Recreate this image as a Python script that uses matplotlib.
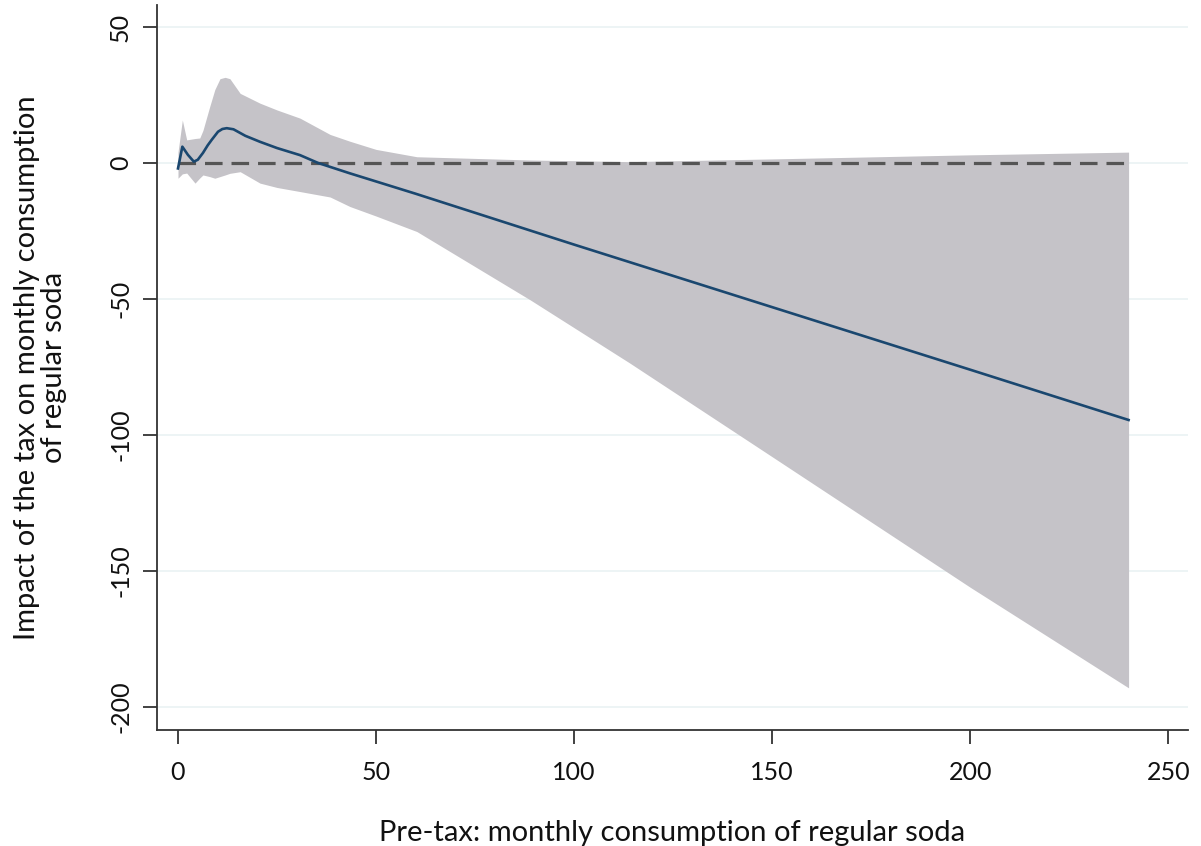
import matplotlib
matplotlib.use("Agg")
import matplotlib.pyplot as plt

# Point estimate (blue line)
line_x = [0, 1.1, 2.5, 4.0, 5.0, 6.3, 7.5, 8.5, 10.1, 11.2, 12.3, 14.0, 17.0, 20.7, 25.0, 30.8, 35.4, 43.4, 60.0, 100.0, 150.0, 200.0, 240.0]
line_y = [-2.0, 6.0, 3.0, 0.5, 1.2, 3.7, 6.5, 8.5, 11.5, 12.5, 12.8, 12.4, 10.0, 7.8, 5.5, 2.9, 0.0, -3.8, -11.3, -30.0, -53.0, -76.0, -94.5]

# Confidence band (grey area)
band_x = [0, 1.1, 2.2, 4.3, 5.5, 6.3, 8.0, 9.3, 10.6, 11.9, 13.1, 15.7, 20.7, 25.0, 30.8, 38.4, 43.4, 50.0, 60.3, 89.0, 114.0, 150.0, 200.0, 240.0]
band_hi = [4.0, 15.8, 8.5, 9.0, 9.2, 12.0, 20.7, 27.0, 31.0, 31.5, 31.0, 25.6, 22.0, 19.5, 16.5, 10.5, 8.0, 5.0, 2.3, 1.1, 0.5, 1.5, 3.0, 4.0]
band_lo = [-5.6, -4.0, -3.7, -7.4, -5.5, -4.4, -5.0, -5.6, -5.0, -4.4, -3.8, -3.2, -7.4, -9.0, -10.5, -12.5, -16.0, -19.5, -25.2, -50.4, -73.5, -108.0, -156.0, -193.0]

# Zero reference line
ref_x = [0, 240]
ref_y = [0, 0]

x_ticks = [0, 50, 100, 150, 200, 250]
y_ticks = [-200, -150, -100, -50, 0, 50]

x_label = "Pre-tax: monthly consumption of regular soda"
y_label = "Impact of the tax on monthly consumption\nof regular soda"

plt.rcParams['font.family'] = ['Lato', 'DejaVu Sans']

fig = plt.figure(figsize=(12.01, 8.46), dpi=100)
ax = fig.add_axes([157/1201, 1 - 730/846, (1188 - 157)/1201, (730 - 5)/846])

ax.set_xlim(-5.3, 255)
ax.set_ylim(-208.5, 58.1)

for yt in y_ticks:
    ax.axhline(yt, color='#eaf2f3', lw=1.2, zorder=0)

ax.fill_between(band_x, band_lo, band_hi, color='#c5c3c8', lw=0, zorder=1)
ax.plot(ref_x, ref_y, color='#555555', lw=2.3, dashes=(5.5, 2.8), zorder=2)
ax.plot(line_x, line_y, color='#1a476f', lw=1.9, zorder=3, solid_joinstyle='round')

for s in ['top', 'right']:
    ax.spines[s].set_visible(False)
for s in ['left', 'bottom']:
    ax.spines[s].set_color('#333333')
    ax.spines[s].set_linewidth(1.3)

ax.set_xticks(x_ticks)
ax.set_yticks(y_ticks)
ax.set_xticklabels([str(v) for v in x_ticks])
ax.set_yticklabels([str(v) for v in y_ticks], rotation=90, va='center')
ax.tick_params(axis='both', direction='out', length=10, width=1.3, color='#333333',
               labelsize=18, labelcolor='#111111')
ax.tick_params(axis='x', pad=12)
ax.tick_params(axis='y', pad=8)

ax.set_xlabel(x_label, fontsize=21, labelpad=26, color='#111111')
ax.set_ylabel(y_label, fontsize=21, labelpad=30, color='#111111', linespacing=1.05)

fig.savefig("out.png", dpi=100)
